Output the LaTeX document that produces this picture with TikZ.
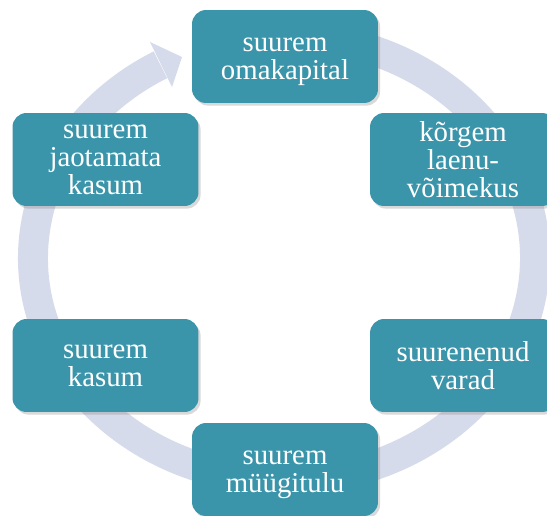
\documentclass[tikz,border=0pt]{standalone}
\usepackage{fontspec}
\setmainfont{Liberation Serif}
\usetikzlibrary{shadows}
\definecolor{boxteal}{RGB}{59,149,170}
\definecolor{ringgrey}{RGB}{214,219,235}

\begin{document}
\begin{tikzpicture}[x=0.02cm, y=0.02cm, box/.style = {fill=boxteal, text=white, rounded corners=0.28cm, minimum width=3.72cm, minimum height=1.86cm, text width=3.5cm, align=center, inner sep=0pt, font=\fontsize{16.4}{16}\selectfont, drop shadow={opacity=0.3, shadow xshift=1.2pt, shadow yshift=-1.5pt}}, lowtext/.style = {execute at begin node={\rule{0pt}{14pt}}}]
\useasboundingbox (0,0) rectangle (547,515);
\coordinate (c) at (284,257);
\coordinate (tip) at (182,458);
\coordinate (hl) at (150,473);
\coordinate (hr) at (172,428);
\draw[ringgrey, line width=0.6cm] (c) ++(80:251 and 222) arc[start angle=80, end angle=-240.5, x radius=251, y radius=222];
\fill[ringgrey] (hl) -- (tip) -- (hr) -- cycle;
\node[box, lowtext] (top) at (285,458.5) {suurem\\omakapital};
\node[box] (rt) at (463,355.5) {kõrgem\\laenu-\\võimekus};
\node[box] (rb) at (463,149.5) {suurenenud\\varad};
\node[box, lowtext] (bot) at (285,45.5) {suurem\\müügitulu};
\node[box] (lb) at (105.5,149.5) {suurem\\kasum};
\node[box] (lt) at (105.5,355.5) {suurem\\jaotamata\\kasum};
\end{tikzpicture}
\end{document}
